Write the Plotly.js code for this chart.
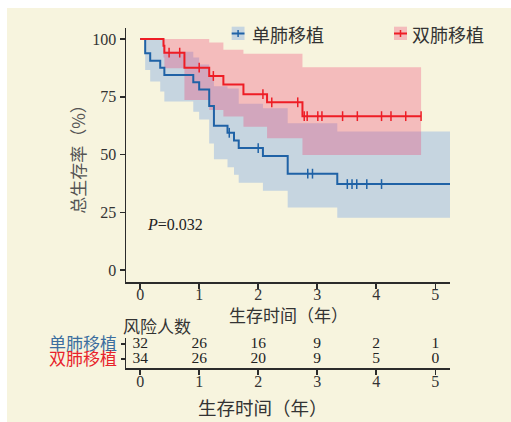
<!DOCTYPE html>
<html><head><meta charset="utf-8">
<script src="https://cdn.plot.ly/plotly-3.0.1.min.js"></script>
<style>
html,body{margin:0;padding:0;background:#fff;width:511px;height:422px;overflow:hidden}
#chart{position:absolute;left:7px;top:8px;width:504px;height:414px}
</style>
</head><body><div id="chart"></div>
<script>
// ---- data (time in years, survival in %) ----
const blueName = '单肺移植';
const redName = '双肺移植';
const blueT  = [0, 0.085, 0.17, 0.34, 0.41, 0.9, 1.0, 1.17, 1.25, 1.48, 1.59, 1.67, 2.08, 2.5, 3.34, 5.25];
const blueS  = [100, 93.8, 90.6, 87.5, 84.4, 81.3, 78.1, 71.0, 62.5, 59.4, 56.1, 52.8, 49.3, 41.7, 37.2, 37.2];
const blueLo = [100, 86.6, 81.6, 77.3, 72.9, 68.5, 65.2, 54.8, 47.9, 44.5, 41.2, 37.8, 34.3, 27.1, 22.6, 22.6];
const blueHi = [100, 100, 100, 100, 94.5, 92, 89, 84, 79.5, 78.6, 78.6, 72, 70, 63.5, 60, 60];
const blueCens = [1.51, 2.0, 2.84, 2.92, 3.51, 3.59, 3.67, 3.84, 4.09];

const redT  = [0, 0.395, 0.41, 0.75, 1.17, 1.41, 1.75, 2.15, 2.75, 4.76];
const redS  = [100, 97.1, 94.1, 87.6, 84.0, 80.3, 76.1, 72.6, 66.6, 66.6];
const redLo = [100, 92, 87.3, 73.6, 69.3, 66.4, 62, 57, 49.8, 49.8];
const redHi = [100, 100, 100, 100, 98.5, 95.3, 93.6, 93.6, 87.8, 87.8];
const redCens = [0.49, 0.67, 1.0, 1.24, 2.08, 2.23, 2.67, 2.78, 2.83, 3.01, 3.08, 3.43, 3.68, 4.09, 4.25, 4.5, 4.76];

const riskT = [0, 1, 2, 3, 4, 5];
const riskSingle = [32, 26, 16, 9, 2, 1];
const riskDouble = [34, 26, 20, 9, 5, 0];
const yTicks = [0, 25, 50, 75, 100];
const pText = '<i>P</i>=0.032';

// ---- styles ----
const cream = '#f7f4de';
const blueLine = '#1f62a6';
const redLine = '#ee1d25';
const blueFill = 'rgba(50,120,230,0.25)';
const redFill = 'rgba(240,60,110,0.3)';
const axisCol = '#2b2b2b';
const serif = 'Liberation Serif, Times New Roman, serif';
const cjk = 'Noto Sans CJK SC, sans-serif';

const W = 504, H = 414, L = 119, T = 20, R = 61, B = 54;
const pw = W - L - R, ph = H - T - B;
function px(xp) { return (xp - 7 - L) / pw; }
function py(yp) { return (H - B - (yp - 8)) / ph; }
function stepAt(ts, ss, t) { let v = ss[0]; for (let i = 0; i < ts.length; i++) if (ts[i] <= t) v = ss[i]; return v; }

const band = (x, y, fill, col) => ({
  x: x, y: y, type: 'scatter', mode: 'lines', line: {width: 0, shape: 'hv'},
  fill: fill, fillcolor: col, showlegend: false, hoverinfo: 'skip'
});

const traces = [
  band(blueT, blueLo, 'none', null),
  band(blueT, blueHi, 'tonexty', blueFill),
  band(redT, redLo, 'none', null),
  band(redT, redHi, 'tonexty', redFill),
  {x: blueT, y: blueS, type: 'scatter', mode: 'lines', name: blueName,
   line: {color: blueLine, width: 2, shape: 'hv'}, showlegend: false},
  {x: redT, y: redS, type: 'scatter', mode: 'lines', name: redName,
   line: {color: redLine, width: 2, shape: 'hv'}, showlegend: false},
  {x: blueCens, y: blueCens.map(t => stepAt(blueT, blueS, t)), type: 'scatter', mode: 'markers',
   marker: {symbol: 'line-ns', size: 7, line: {width: 1.5, color: blueLine}}, showlegend: false},
  {x: redCens, y: redCens.map(t => stepAt(redT, redS, t)), type: 'scatter', mode: 'markers',
   marker: {symbol: 'line-ns', size: 7, line: {width: 1.5, color: redLine}}, showlegend: false},
  {x: riskT, y: riskT.map(() => 2), xaxis: 'x2', yaxis: 'y2', type: 'scatter', mode: 'text',
   text: riskSingle.map(String), textfont: {family: serif, size: 15.5, color: '#222'}, showlegend: false},
  {x: riskT, y: riskT.map(() => 1), xaxis: 'x2', yaxis: 'y2', type: 'scatter', mode: 'text',
   text: riskDouble.map(String), textfont: {family: serif, size: 15.5, color: '#222'}, showlegend: false}
];

const axCommon = {
  showline: true, linecolor: axisCol, linewidth: 1.5, ticks: 'outside', ticklen: 5,
  tickwidth: 1.5, tickcolor: axisCol, showgrid: false, zeroline: false, fixedrange: true,
  tickfont: {family: serif, size: 16, color: '#333'}
};

function legendShapes(x0, x1, fillCol, lineCol) {
  const xc = (x0 + x1) / 2;
  return [
    {type: 'rect', xref: 'paper', yref: 'paper', x0: px(x0), x1: px(x1), y0: py(40), y1: py(26.7),
     fillcolor: fillCol, line: {width: 0}},
    {type: 'line', xref: 'paper', yref: 'paper', x0: px(x0), x1: px(x1), y0: py(33.5), y1: py(33.5),
     line: {color: lineCol, width: 2}},
    {type: 'line', xref: 'paper', yref: 'paper', x0: px(xc), x1: px(xc), y0: py(30), y1: py(37),
     line: {color: lineCol, width: 1.5}}
  ];
}

const layout = {
  width: W, height: H,
  margin: {l: L, r: R, t: T, b: B},
  paper_bgcolor: cream, plot_bgcolor: 'rgba(0,0,0,0)',
  showlegend: false,
  xaxis: Object.assign({}, axCommon, {
    domain: [0, 1], anchor: 'y', range: [-0.24, 5.25], tickvals: riskT,
    ticklabelstandoff: -8, automargin: false
  }),
  yaxis: Object.assign({}, axCommon, {
    domain: [py(282), 1], anchor: 'x', range: [-5.19, 104.76], tickvals: yTicks,
    title: {text: '总生存率（%）', font: {family: cjk, size: 17, color: '#555'}, standoff: 2}, automargin: false
  }),
  xaxis2: Object.assign({}, axCommon, {
    domain: [0, 1], anchor: 'y2', range: [-0.24, 5.25], tickvals: riskT,
    ticklabelstandoff: -7, automargin: false
  }),
  yaxis2: Object.assign({}, axCommon, {
    domain: [0, py(338)], anchor: 'x2', range: [0.4, 2.4], tickvals: [2, 1], ticklen: 4,
    ticktext: ['<span style="color:#3c6e9f">' + blueName + '</span>', '<span style="color:#e8232b">' + redName + '</span>'],
    tickfont: {family: cjk, size: 17, color: '#333'}, automargin: false
  }),
  shapes: legendShapes(231.7, 244.5, blueFill, blueLine).concat(legendShapes(394, 407, redFill, redLine)),
  annotations: [
    {xref: 'paper', yref: 'paper', x: px(250), y: py(33.5), xanchor: 'left', yanchor: 'middle',
     text: blueName, showarrow: false, font: {family: cjk, size: 18, color: '#333'}},
    {xref: 'paper', yref: 'paper', x: px(410), y: py(33.5), xanchor: 'left', yanchor: 'middle',
     text: redName, showarrow: false, font: {family: cjk, size: 18, color: '#333'}},
    {xref: 'paper', yref: 'paper', x: px(145), y: py(225), xanchor: 'left', yanchor: 'middle',
     text: pText, showarrow: false, font: {family: serif, size: 16, color: '#222'}},
    {xref: 'paper', yref: 'paper', x: px(288), y: py(314.5), xanchor: 'center', yanchor: 'middle',
     text: '生存时间（年）', showarrow: false, font: {family: cjk, size: 17, color: '#333'}},
    {xref: 'paper', yref: 'paper', x: px(121), y: py(325.5), xanchor: 'left', yanchor: 'middle',
     text: '风险人数', showarrow: false, font: {family: cjk, size: 17, color: '#333'}},
    {xref: 'paper', yref: 'paper', x: px(263), y: py(407), xanchor: 'center', yanchor: 'middle',
     text: '生存时间（年）', showarrow: false, font: {family: cjk, size: 18.5, color: '#333'}}
  ]
};

Plotly.newPlot('chart', traces, layout, {displayModeBar: false, staticPlot: true});
</script>
</body></html>
